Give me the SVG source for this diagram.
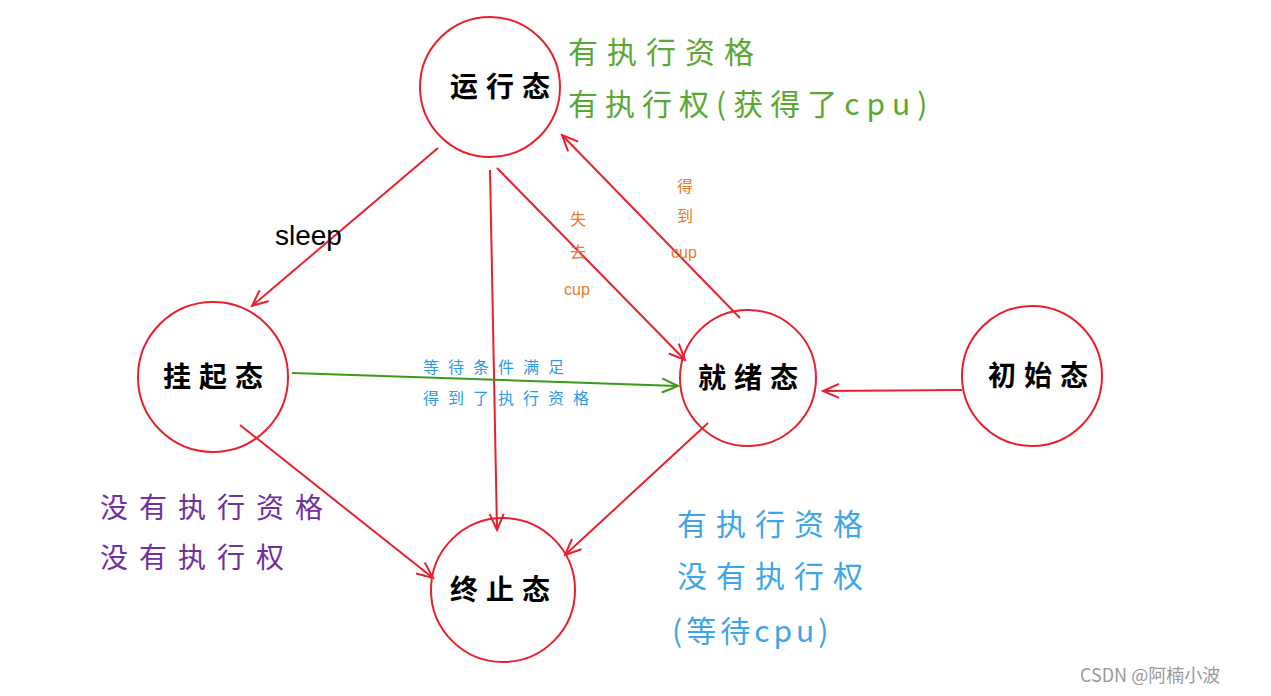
<svg xmlns="http://www.w3.org/2000/svg" width="1271" height="696" viewBox="0 0 1271 696">
<style>
.n{fill:#fff;stroke:#e8202e;stroke-width:2}
.l{font-family:"Noto Sans CJK SC",sans-serif;font-size:28px;font-weight:bold;fill:#000;text-anchor:middle;letter-spacing:8px}
.c{stroke:#e8202e;stroke-width:2;fill:none}
.t{font-family:"Noto Sans CJK SC",sans-serif}
</style>
<defs>
<marker id="a" viewBox="0 0 20 20" refX="18" refY="10" markerWidth="20" markerHeight="20" markerUnits="userSpaceOnUse" orient="auto"><polyline points="2,3 18,10 2,17" fill="none" stroke="#e8202e" stroke-width="2"/></marker>
<marker id="g" viewBox="0 0 20 20" refX="18" refY="10" markerWidth="20" markerHeight="20" markerUnits="userSpaceOnUse" orient="auto"><polyline points="2,3 18,10 2,17" fill="none" stroke="#3a9a1a" stroke-width="2"/></marker>
</defs>
<rect width="1271" height="696" fill="#fff"/>
<g id="n1"><circle class="n" cx="490" cy="87" r="70"/><text class="l" x="504" y="97">运行态</text></g>
<g id="n2"><circle class="n" cx="213" cy="377" r="75"/><text class="l" x="217" y="387">挂起态</text></g>
<g id="n3"><circle class="n" cx="748" cy="378" r="68"/><text class="l" x="752" y="388">就绪态</text></g>
<g id="n4"><circle class="n" cx="1032" cy="376" r="70"/><text class="l" x="1042" y="386">初始态</text></g>
<g id="n5"><circle class="n" cx="503" cy="590" r="72"/><text class="l" x="504" y="600">终止态</text></g>
<g id="edges">
<line class="c" x1="438" y1="148" x2="252" y2="306" marker-end="url(#a)"/>
<line class="c" x1="490" y1="170" x2="497" y2="530" marker-end="url(#a)"/>
<line class="c" x1="497" y1="168" x2="685" y2="360" marker-end="url(#a)"/>
<line class="c" x1="740" y1="318" x2="562" y2="135" marker-end="url(#a)"/>
<line x1="292" y1="373" x2="678" y2="386" stroke="#3a9a1a" stroke-width="2" marker-end="url(#g)"/>
<line class="c" x1="962" y1="390" x2="823" y2="391" marker-end="url(#a)"/>
<line class="c" x1="240" y1="425" x2="433" y2="578" marker-end="url(#a)"/>
<line class="c" x1="708" y1="423" x2="565" y2="555" marker-end="url(#a)"/>
</g>
<g class="t">
<g font-size="30" fill="#5aa832" letter-spacing="9"><text x="568" y="63">有执行资格</text>
<text x="568" y="115" letter-spacing="7">有执行权(获得了cpu)</text></g>
<text x="275" y="245" font-size="28" fill="#000" font-family="Liberation Sans,sans-serif">sleep</text>
<g font-size="16" fill="#e87a2a"><text x="570" y="225">失</text><text x="570" y="258">去</text><text x="564" y="295" font-family="Liberation Sans,sans-serif">cup</text>
<text x="677" y="192">得</text><text x="677" y="222">到</text><text x="671" y="258" font-family="Liberation Sans,sans-serif">cup</text></g>
<g font-size="16" fill="#2a9be8" letter-spacing="9"><text x="423" y="373">等待条件满足</text><text x="423" y="404">得到了执行资格</text></g>
<g font-size="28" fill="#7030a0" letter-spacing="11"><text x="100" y="518">没有执行资格</text><text x="100" y="568">没有执行权</text></g>
<g font-size="30" fill="#3ea6e8" letter-spacing="9"><text x="677" y="535">有执行资格</text><text x="677" y="587">没有执行权</text><text x="672" y="642" letter-spacing="4">(等待cpu)</text></g>
<text x="1080" y="682" font-size="18" fill="#999">CSDN @阿楠小波</text>
</g>
</svg>
